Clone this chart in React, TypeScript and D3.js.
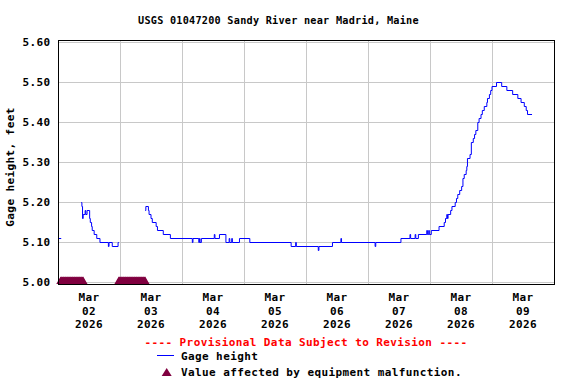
import React, { useRef, useEffect } from "react";
import * as d3 from "d3";

// Chart text
const chartTitle = "USGS 01047200 Sandy River near Madrid, Maine";
const yLabel = "Gage height, feet";
const provisionalNote = "---- Provisional Data Subject to Revision ----";
const seriesName = "Gage height";
const malfunctionNote = "Value affected by equipment malfunction.";

// Axis ticks
const yTicks = [5.0, 5.1, 5.2, 5.3, 5.4, 5.5, 5.6];
const dayTicks = [
  "2026-03-02 00:00", "2026-03-03 00:00", "2026-03-04 00:00", "2026-03-05 00:00",
  "2026-03-06 00:00", "2026-03-07 00:00", "2026-03-08 00:00", "2026-03-09 00:00",
];
const timeStart = "2026-03-02 00:00";
const timeEnd = "2026-03-10 00:00";

// Gage height, stored as the points where the reading changes (null = no data)
const stepTimes = [
  "2026-03-02 00:00", "2026-03-02 01:15", "2026-03-02 01:30",
  "2026-03-02 09:00", "2026-03-02 09:15", "2026-03-02 09:30", "2026-03-02 09:45",
  "2026-03-02 10:30", "2026-03-02 10:45", "2026-03-02 11:15", "2026-03-02 12:15",
  "2026-03-02 12:30", "2026-03-02 13:00", "2026-03-02 13:15", "2026-03-02 14:00",
  "2026-03-02 15:00", "2026-03-02 16:15", "2026-03-02 19:30", "2026-03-02 19:45",
  "2026-03-02 21:00", "2026-03-02 23:15", "2026-03-02 23:30", "2026-03-02 23:45",
  "2026-03-03 09:45", "2026-03-03 10:00", "2026-03-03 11:00", "2026-03-03 11:15",
  "2026-03-03 12:00", "2026-03-03 12:30", "2026-03-03 14:00", "2026-03-03 14:30",
  "2026-03-03 16:45", "2026-03-03 19:30",
  "2026-03-04 04:00", "2026-03-04 04:15", "2026-03-04 06:30", "2026-03-04 06:45",
  "2026-03-04 07:00", "2026-03-04 07:30", "2026-03-04 12:30", "2026-03-04 12:45",
  "2026-03-04 14:30", "2026-03-04 17:00", "2026-03-04 18:15", "2026-03-04 18:30",
  "2026-03-04 19:15", "2026-03-04 19:30", "2026-03-04 22:15",
  "2026-03-05 02:15", "2026-03-05 18:15", "2026-03-05 20:00", "2026-03-05 20:15",
  "2026-03-06 04:45", "2026-03-06 05:00", "2026-03-06 10:15", "2026-03-06 13:30",
  "2026-03-06 13:45",
  "2026-03-07 02:45", "2026-03-07 03:00", "2026-03-07 12:45", "2026-03-07 16:15",
  "2026-03-07 16:30", "2026-03-07 18:15", "2026-03-07 18:30", "2026-03-07 19:30",
  "2026-03-07 22:45", "2026-03-07 23:00", "2026-03-07 23:30", "2026-03-07 23:45",
  "2026-03-08 00:30", "2026-03-08 03:30", "2026-03-08 05:30", "2026-03-08 06:00",
  "2026-03-08 06:30", "2026-03-08 06:45", "2026-03-08 07:00", "2026-03-08 08:00",
  "2026-03-08 08:30", "2026-03-08 09:45", "2026-03-08 10:15", "2026-03-08 10:45",
  "2026-03-08 11:30", "2026-03-08 12:15", "2026-03-08 12:45", "2026-03-08 13:15",
  "2026-03-08 14:00", "2026-03-08 14:15", "2026-03-08 14:30", "2026-03-08 15:30",
  "2026-03-08 16:00", "2026-03-08 16:45", "2026-03-08 17:15", "2026-03-08 17:45",
  "2026-03-08 18:30", "2026-03-08 19:00", "2026-03-08 19:45", "2026-03-08 20:15",
  "2026-03-08 21:00", "2026-03-08 22:00", "2026-03-08 22:15", "2026-03-08 23:00",
  "2026-03-08 23:30",
  "2026-03-09 00:00", "2026-03-09 01:45", "2026-03-09 03:45", "2026-03-09 05:45",
  "2026-03-09 08:00", "2026-03-09 10:00", "2026-03-09 11:15", "2026-03-09 12:30",
  "2026-03-09 13:15", "2026-03-09 13:45", "2026-03-09 15:30",
];
const stepValues = [
  5.11, 5.11, null,
  5.20, 5.19, 5.16, 5.17,
  5.18, 5.17, 5.18, 5.16,
  5.15, 5.14, 5.13, 5.12,
  5.11, 5.10, 5.09, 5.10,
  5.09, 5.10, 5.10, null,
  5.18, 5.19, 5.18, 5.17,
  5.16, 5.15, 5.14, 5.13,
  5.12, 5.11,
  5.10, 5.11, 5.10, 5.11,
  5.10, 5.11, 5.12, 5.11,
  5.12, 5.10, 5.11, 5.10,
  5.11, 5.10, 5.11,
  5.10, 5.09, 5.10, 5.09,
  5.08, 5.09, 5.10, 5.11,
  5.10,
  5.09, 5.10, 5.11, 5.12,
  5.11, 5.12, 5.11, 5.12,
  5.13, 5.12, 5.13, 5.12,
  5.13, 5.14, 5.15, 5.16,
  5.17, 5.16, 5.17, 5.18,
  5.19, 5.20, 5.21, 5.22,
  5.23, 5.24, 5.26, 5.27,
  5.28, 5.29, 5.31, 5.32,
  5.35, 5.36, 5.37, 5.38,
  5.40, 5.41, 5.42, 5.43,
  5.44, 5.45, 5.46, 5.47,
  5.48,
  5.49, 5.50, 5.49, 5.48,
  5.47, 5.46, 5.45, 5.44,
  5.43, 5.42, 5.42,
];

// Readings flagged for equipment malfunction
const malfunctionTimes = [
  "2026-03-02 01:00", "2026-03-02 01:15", "2026-03-02 01:30", "2026-03-02 01:45",
  "2026-03-02 02:00", "2026-03-02 02:15", "2026-03-02 02:30", "2026-03-02 02:45",
  "2026-03-02 03:00", "2026-03-02 03:15", "2026-03-02 03:30", "2026-03-02 03:45",
  "2026-03-02 04:00", "2026-03-02 04:15", "2026-03-02 04:30", "2026-03-02 04:45",
  "2026-03-02 05:00", "2026-03-02 05:15", "2026-03-02 05:30", "2026-03-02 05:45",
  "2026-03-02 06:00", "2026-03-02 06:15", "2026-03-02 06:30", "2026-03-02 06:45",
  "2026-03-02 07:00", "2026-03-02 07:15", "2026-03-02 07:30", "2026-03-02 07:45",
  "2026-03-02 08:00", "2026-03-02 08:15", "2026-03-02 08:30", "2026-03-02 08:45",
  "2026-03-02 09:00", "2026-03-02 09:15", "2026-03-02 09:30", "2026-03-02 09:45",
  "2026-03-02 23:30", "2026-03-02 23:45",
  "2026-03-03 00:00", "2026-03-03 00:15", "2026-03-03 00:30", "2026-03-03 00:45",
  "2026-03-03 01:00", "2026-03-03 01:15", "2026-03-03 01:30", "2026-03-03 01:45",
  "2026-03-03 02:00", "2026-03-03 02:15", "2026-03-03 02:30", "2026-03-03 02:45",
  "2026-03-03 03:00", "2026-03-03 03:15", "2026-03-03 03:30", "2026-03-03 03:45",
  "2026-03-03 04:00", "2026-03-03 04:15", "2026-03-03 04:30", "2026-03-03 04:45",
  "2026-03-03 05:00", "2026-03-03 05:15", "2026-03-03 05:30", "2026-03-03 05:45",
  "2026-03-03 06:00", "2026-03-03 06:15", "2026-03-03 06:30", "2026-03-03 06:45",
  "2026-03-03 07:00", "2026-03-03 07:15", "2026-03-03 07:30", "2026-03-03 07:45",
  "2026-03-03 08:00", "2026-03-03 08:15", "2026-03-03 08:30", "2026-03-03 08:45",
  "2026-03-03 09:00", "2026-03-03 09:15", "2026-03-03 09:30", "2026-03-03 09:45",
];

const FONT = "'DejaVu Sans Mono', 'Liberation Mono', monospace";
const MAROON = "#800040";
const BLUE = "#0000ff";

const parseTime = d3.timeParse("%Y-%m-%d %H:%M");

const App = () => {
  const svgRef = useRef(null);

  useEffect(() => {
    const svg = d3.select(svgRef.current);
    svg.selectAll("*").remove();

    // plot frame
    const left = 58, right = 554, top = 40, bottom = 284;

    const xScale = d3.scaleTime()
      .domain([parseTime(timeStart), parseTime(timeEnd)])
      .range([left, right]);
    const yScale = d3.scaleLinear()
      .domain([5.0, 5.6])
      .range([bottom - 2, top + 2]);

    svg.append("rect")
      .attr("width", 576).attr("height", 384).attr("fill", "#fff");

    // title
    svg.append("text")
      .attr("x", 138).attr("y", 24)
      .attr("font-family", FONT).attr("font-weight", "bold")
      .attr("font-size", 10.2).style("letter-spacing", "0.25px")
      .text(chartTitle);

    // grid
    const grid = svg.append("g")
      .attr("stroke", "#c8c8c8").attr("stroke-width", 1);
    yTicks.forEach(v => {
      grid.append("line")
        .attr("x1", left).attr("x2", right)
        .attr("y1", Math.round(yScale(v)) + 0.5).attr("y2", Math.round(yScale(v)) + 0.5);
    });
    dayTicks.slice(1).forEach(t => {
      const x = Math.round(xScale(parseTime(t))) + 0.5;
      grid.append("line")
        .attr("x1", x).attr("x2", x).attr("y1", top).attr("y2", bottom);
    });

    // gage height line
    const points = stepTimes.map((t, i) => ({ t: parseTime(t), v: stepValues[i] }));
    const lineGenerator = d3.line()
      .defined(d => d.v !== null)
      .x(d => xScale(d.t))
      .y(d => yScale(d.v) + 0.5)
      .curve(d3.curveStepAfter);
    svg.append("path")
      .datum(points)
      .attr("d", lineGenerator)
      .attr("fill", "none")
      .attr("stroke", BLUE)
      .attr("stroke-width", 1);

    // malfunction markers along the bottom
    svg.append("g")
      .selectAll("path")
      .data(malfunctionTimes)
      .join("path")
      .attr("d", t => {
        const x = xScale(parseTime(t));
        return `M${x - 4.3},${bottom} L${x},${bottom - 7.5} L${x + 4.3},${bottom} Z`;
      })
      .attr("fill", MAROON);

    // frame
    svg.append("rect")
      .attr("x", left + 0.5).attr("y", top + 0.5)
      .attr("width", right - left).attr("height", bottom - top)
      .attr("fill", "none").attr("stroke", "#000").attr("stroke-width", 1);

    // y ticks
    svg.append("g")
      .selectAll("text")
      .data(yTicks)
      .join("text")
      .attr("x", 50.5).attr("y", v => yScale(v) + 4)
      .attr("text-anchor", "end")
      .attr("font-family", FONT).attr("font-weight", "bold")
      .attr("font-size", 11).style("letter-spacing", "0.4px")
      .text(v => v.toFixed(2));

    svg.append("text")
      .attr("transform", `translate(14, 167) rotate(-90)`)
      .attr("text-anchor", "middle")
      .attr("font-family", FONT).attr("font-weight", "bold")
      .attr("font-size", 11).style("letter-spacing", "0.4px")
      .text(yLabel);

    // x ticks, at noon of each day
    const xLabels = svg.append("g")
      .attr("font-family", FONT).attr("font-weight", "bold")
      .attr("font-size", 11).attr("text-anchor", "middle")
      .style("letter-spacing", "0.4px");
    dayTicks.forEach(t => {
      const day = parseTime(t);
      const x = xScale(d3.timeHour.offset(day, 12));
      xLabels.append("text").attr("x", x).attr("y", 301).text(d3.timeFormat("%b")(day));
      xLabels.append("text").attr("x", x).attr("y", 314.5).text(d3.timeFormat("%d")(day));
      xLabels.append("text").attr("x", x).attr("y", 328).text(d3.timeFormat("%Y")(day));
    });

    // legend
    const legend = svg.append("g")
      .attr("font-family", FONT).attr("font-weight", "bold")
      .attr("font-size", 11).style("letter-spacing", "0.4px");
    legend.append("text")
      .attr("x", 306).attr("y", 346).attr("text-anchor", "middle")
      .attr("fill", "#ff0000")
      .text(provisionalNote);
    legend.append("rect")
      .attr("x", 157).attr("y", 355).attr("width", 17).attr("height", 1)
      .attr("fill", BLUE);
    legend.append("text")
      .attr("x", 181).attr("y", 360)
      .text(seriesName);
    legend.append("path")
      .attr("d", "M161.7,376 L166.7,368 L171.7,376 Z")
      .attr("fill", MAROON);
    legend.append("text")
      .attr("x", 181).attr("y", 376)
      .text(malfunctionNote);
  }, []);

  return (
    <svg ref={svgRef} width={576} height={384}
      style={{ position: "absolute", left: 0, top: 0, display: "block" }} />
  );
};

export default App;
